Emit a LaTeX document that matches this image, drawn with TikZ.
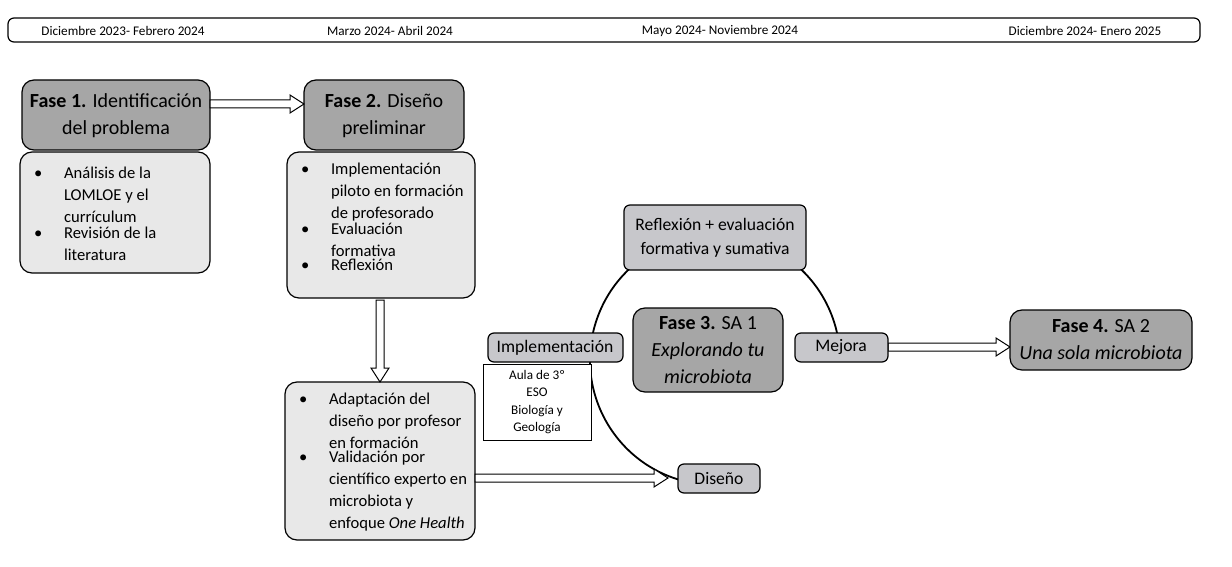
\documentclass[tikz,border=0pt]{standalone}
\usepackage{fontspec}
\setmainfont{Carlito}
\begin{document}
\begin{tikzpicture}[x=0.5pt,y=-0.5pt,
  box/.style={draw,line width=0.6pt,rounded corners=6pt},
  dark/.style={box,fill=black!35},
  light/.style={box,fill=black!9},
  small/.style={box,fill=gray!25!blue!3!white!80!black,rounded corners=3pt},
  hd/.style={font=\fontsize{10}{13.5}\selectfont,align=center},
  bl/.style={font=\fontsize{8.3}{11}\selectfont,align=left,anchor=north west}]
\newcommand\bul[2]{\makebox[15pt][l]{\textbullet}\parbox[t]{#1}{#2}}
\newcommand\harr[3]{\draw[line width=0.5pt,fill=white] (#1,#3-4) -- (#2-14,#3-4) -- (#2-14,#3-9) -- (#2,#3) -- (#2-14,#3+9) -- (#2-14,#3+4) -- (#1,#3+4) -- cycle;}
\useasboundingbox (0,0) rectangle (1232,567);
% top bar
\draw[line width=0.6pt,rounded corners=3pt] (8,18) rectangle (1200,42);
\begin{scope}[every node/.style={font=\fontsize{6.6}{8}\selectfont}]
\node (t1) at (123,31) {Diciembre 2023- Febrero 2024};
\node (t2) at (390,31) {Marzo 2024- Abril 2024};
\node (t3) at (720,31) {Mayo 2024- Noviembre 2024};
\node (t4) at (1085,31) {Diciembre 2024- Enero 2025};
\end{scope}
% circle arc
\draw[line width=0.9pt] (715,360) ++(106:125) arc[start angle=106,end angle=351,radius=125];
% boxes
\draw[dark] (22,80) rectangle (210,150);
\node[hd] (f1) at (116,116) {\textbf{Fase 1.} Identificación\\del problema};
\draw[light] (20,152) rectangle (210,273);
\node[bl] (b1) at (27,160) {\bul{65pt}{Análisis de la\\LOMLOE y el\\currículum}\\[1pt]\bul{65pt}{Revisión de la\\literatura}};
\draw[dark] (304,80) rectangle (464,150);
\node[hd] (f2) at (384,116) {\textbf{Fase 2.} Diseño\\preliminar};
\draw[light] (287,152) rectangle (475,298);
\node[bl] (b2) at (294,156) {\bul{75pt}{Implementación\\piloto en formación\\de profesorado}\\\bul{75pt}{Evaluación\\formativa}\\\bul{75pt}{Reflexión}};
\draw[light] (285,382) rectangle (475,540);
\node[bl] (b3) at (292,386) {\bul{75pt}{Adaptación del\\diseño por profesor\\en formación}\\\bul{75pt}{Validación por\\científico experto en\\microbiota y\\enfoque \textit{One Health}}};
% arrows
\harr{210}{304}{104}
\draw[line width=0.5pt,fill=white] (376,300) -- (376,368) -- (371,368) -- (380,382) -- (389,368) -- (384,368) -- (384,300) -- cycle;
\harr{475}{668}{478}
\harr{888}{1010}{347}
% cycle nodes
\draw[small] (624,205) rectangle (806,270);
\node[hd,font=\fontsize{8.8}{12}\selectfont] (r) at (715,238) {Reflexión + evaluación\\formativa y sumativa};
\draw[small] (488,333) rectangle (623,362);
\node[font=\fontsize{8.8}{11}\selectfont] (imp) at (555,348) {Implementación};
\draw[line width=0.5pt,fill=white] (483,364) rectangle (591,440);
\node[align=center,font=\fontsize{6.6}{8.6}\selectfont] (aula) at (537,402) {Aula de 3º\\ESO\\Biología y\\Geología};
\draw[dark] (633,308) rectangle (783,392);
\node[hd] (f3) at (708,350) {\textbf{Fase 3.} SA 1\\\textit{Explorando tu}\\\textit{microbiota}};
\draw[small] (795,333) rectangle (888,362);
\node[font=\fontsize{8.8}{11}\selectfont] (mej) at (841,347) {Mejora};
\draw[small] (678,464) rectangle (760,493);
\node[font=\fontsize{8.8}{11}\selectfont] (dis) at (719,479) {Diseño};
\draw[dark] (1010,310) rectangle (1192,370);
\node[hd] (f4) at (1101,340) {\textbf{Fase 4.} SA 2\\\textit{Una sola microbiota}};
\end{tikzpicture}
\end{document}
